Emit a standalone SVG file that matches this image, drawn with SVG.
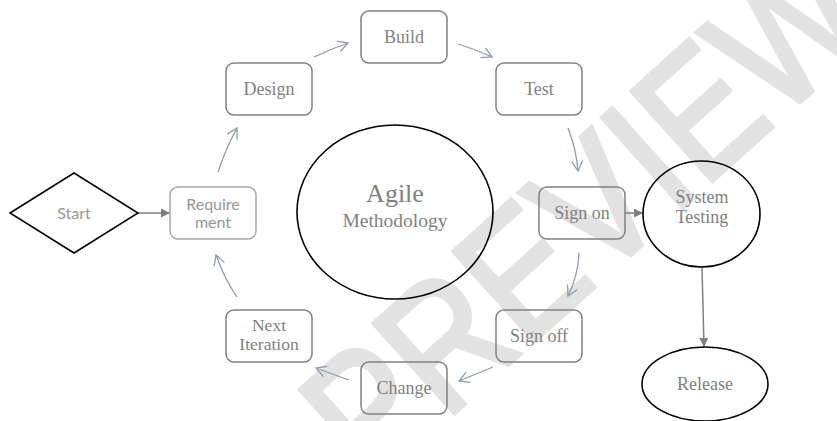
<svg xmlns="http://www.w3.org/2000/svg" width="837" height="421" viewBox="0 0 837 421">
<style>
.box{fill:none;stroke:#808080;stroke-width:1.5}
.boxl{fill:none;stroke:#a8a8a8;stroke-width:1.5}
.ell{fill:none;stroke:#000;stroke-width:1.6}
.t{font-family:"Liberation Serif",serif;font-size:18px;fill:#808080;text-anchor:middle}
.s{font-family:Lato,"Liberation Sans",sans-serif;font-size:16px;fill:#969696;text-anchor:middle}
.cyc{fill:none;stroke:#8e9bb0;stroke-width:1.3}
.dk{fill:none;stroke:#808080;stroke-width:1.5}
.wm{font-family:"Liberation Sans",sans-serif;font-size:175px;fill:#e2e2e2;stroke:#e2e2e2;stroke-width:5;text-anchor:middle}
</style>
<defs>
<marker id="open" markerUnits="userSpaceOnUse" markerWidth="14" markerHeight="14" refX="11" refY="6.5" orient="auto">
<path d="M1,1 L11,6.5 L1,12" fill="none" stroke="#8e9bb0" stroke-width="1.3"/>
</marker>
<marker id="fill" markerUnits="userSpaceOnUse" markerWidth="12" markerHeight="10" refX="9" refY="4.5" orient="auto">
<path d="M0,0 L9,4.5 L0,9 Z" fill="#808080"/>
</marker>
</defs>
<rect width="837" height="421" fill="#fff"/>
<g id="watermark">
<text class="wm" transform="translate(585,212) rotate(-42) scale(0.85,1)" x="0" y="62">PREVIEW</text>
</g>
<g id="connectors">
<line class="dk" x1="138" y1="213" x2="170" y2="213" marker-end="url(#fill)"/>
<line class="dk" x1="625" y1="213" x2="643" y2="213" marker-end="url(#fill)"/>
<line class="dk" x1="702" y1="267" x2="704" y2="347" marker-end="url(#fill)"/>
<path class="cyc" d="M218,172 Q226,148 237,128" marker-end="url(#open)"/>
<path class="cyc" d="M314,57 Q331,49 348,43" marker-end="url(#open)"/>
<path class="cyc" d="M458,44 Q475,49 492,57" marker-end="url(#open)"/>
<path class="cyc" d="M568,128 Q576,148 578,171" marker-end="url(#open)"/>
<path class="cyc" d="M579,253 Q578,276 568,296" marker-end="url(#open)"/>
<path class="cyc" d="M493,367 Q476,374 459,381" marker-end="url(#open)"/>
<path class="cyc" d="M349,380 Q332,374 316,368" marker-end="url(#open)"/>
<path class="cyc" d="M237,297 Q224,278 216,255" marker-end="url(#open)"/>
</g>
<g id="start">
<polygon points="10,213 74,173 138,213 74,253" fill="none" stroke="#000" stroke-width="1.5"/>
<text class="s" x="74" y="219">Start</text>
</g>
<g id="requirement">
<rect class="boxl" x="170" y="187" width="86" height="52" rx="8"/>
<text class="s" x="213" y="210">Require</text>
<text class="s" x="213" y="228">ment</text>
</g>
<g id="design">
<rect class="box" x="226" y="63" width="86" height="52" rx="8"/>
<text class="t" x="269" y="95">Design</text>
</g>
<g id="build">
<rect class="box" x="361" y="11" width="86" height="52" rx="8"/>
<text class="t" x="404" y="43">Build</text>
</g>
<g id="test">
<rect class="box" x="496" y="63" width="86" height="52" rx="8"/>
<text class="t" x="539" y="95">Test</text>
</g>
<g id="signon">
<rect class="box" x="539" y="187" width="86" height="52" rx="8"/>
<text class="t" x="582" y="219">Sign on</text>
</g>
<g id="signoff">
<rect class="box" x="496" y="310" width="86" height="52" rx="8"/>
<text class="t" x="539" y="342">Sign off</text>
</g>
<g id="change">
<rect class="box" x="361" y="362" width="86" height="52" rx="8"/>
<text class="t" x="404" y="394">Change</text>
</g>
<g id="nextiteration">
<rect class="box" x="226" y="310" width="86" height="52" rx="8"/>
<text class="t" x="269" y="331" style="font-size:17.5px">Next</text>
<text class="t" x="269" y="350" style="font-size:17.5px">Iteration</text>
</g>
<g id="agile">
<ellipse class="ell" cx="395" cy="212" rx="98" ry="87"/>
<text class="t" x="395" y="202" style="font-size:26px">Agile</text>
<text class="t" x="395" y="227" style="font-size:19.5px">Methodology</text>
</g>
<g id="systemtesting">
<ellipse class="ell" cx="701.5" cy="214" rx="58.5" ry="53"/>
<text class="t" x="702" y="203">System</text>
<text class="t" x="702" y="223">Testing</text>
</g>
<g id="release">
<ellipse class="ell" cx="705" cy="384" rx="63" ry="37"/>
<text class="t" x="705" y="390">Release</text>
</g>
</svg>
